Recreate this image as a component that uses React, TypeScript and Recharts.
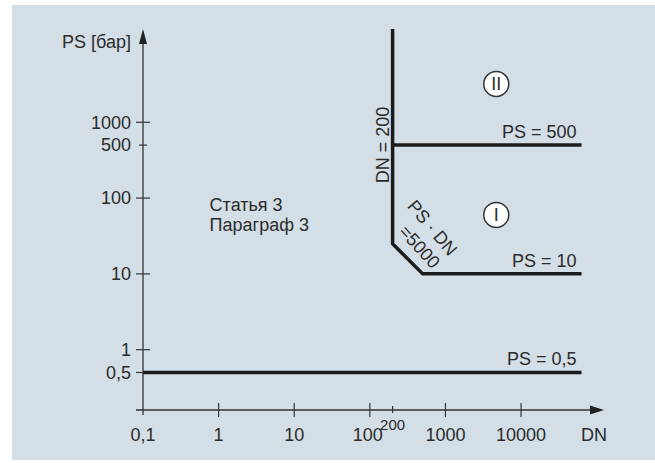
import { LineChart, Line, XAxis, YAxis, ReferenceLine, ReferenceDot } from "recharts";

const FONT = '"Liberation Sans", Arial, sans-serif';
const INK = "#1c1c1c";
const TEXT = "#2b2b2b";

// axis ticks
const dnTicks = [0.1, 1, 10, 100, 200, 1000, 10000];
const psTicks = [0.5, 1, 10, 100, 500, 1000];

// axis ranges (DN, PS)
const dnDomain = [0.1, 125000];
const psDomain = [0.16, 17000];

// boundary lines
const ps05Line = [
  { dn: 0.1, ps: 0.5 },
  { dn: 63000, ps: 0.5 },
];
const categoryLine = [
  { dn: 200, ps: 17000 },
  { dn: 200, ps: 25 },
  { dn: 500, ps: 10 },
  { dn: 63000, ps: 10 },
];
const ps500Line = [
  { dn: 200, ps: 500 },
  { dn: 63000, ps: 500 },
];

const fmt = (v: number) => String(v).replace(".", ",");

function PsTick({ x, y, payload }: any) {
  const v = payload.value;
  const half = v === 500 ? 4 : 7;
  return (
    <g>
      <line x1={x - half} x2={v === 0.5 ? x : x + half} y1={y} y2={y} stroke="#333" strokeWidth={1.2} />
      <text x={x - 12} y={y} dy="0.35em" textAnchor="end" fontSize={18} fill={TEXT}>
        {fmt(v)}
      </text>
    </g>
  );
}

function DnTick({ x, y, payload }: any) {
  const v = payload.value;
  if (v === 200) {
    return (
      <g>
        <line x1={x} x2={x} y1={y - 4} y2={y + 3} stroke="#333" strokeWidth={1.2} />
        <text x={x} y={y + 15} dy="0.35em" textAnchor="middle" fontSize={15} fill={TEXT}>
          200
        </text>
      </g>
    );
  }
  return (
    <g>
      {v !== 0.1 && <line x1={x} x2={x} y1={y - 7} y2={y + 7} stroke="#333" strokeWidth={1.2} />}
      <text x={v === 100 ? x - 2 : x} y={y + 25} dy="0.35em" textAnchor="middle" fontSize={18} fill={TEXT}>
        {fmt(v)}
      </text>
    </g>
  );
}

function YArrow(p: any) {
  const x = p.x1;
  const top = Math.min(p.y1, p.y2);
  const bottom = Math.max(p.y1, p.y2);
  return (
    <g>
      <line x1={x} x2={x} y1={bottom + 5} y2={top + 12} stroke="#333" strokeWidth={1.3} />
      <polygon points={`${x},${top} ${x - 4},${top + 15} ${x + 4},${top + 15}`} fill="#222" />
    </g>
  );
}

function XArrow(p: any) {
  const y = p.y1;
  const left = Math.min(p.x1, p.x2);
  const right = Math.max(p.x1, p.x2);
  return (
    <g>
      <line x1={left - 7} x2={right - 12} y1={y} y2={y} stroke="#333" strokeWidth={1.3} />
      <polygon points={`${right},${y} ${right - 14},${y - 4.5} ${right - 14},${y + 4.5}`} fill="#222" />
    </g>
  );
}

const lineLabel = (text: string) => (p: any) => (
  <text x={p.cx - 5} y={p.cy - 7} textAnchor="end" fontSize={18} fill={TEXT}>
    {text}
  </text>
);

const roman = (text: string) => (p: any) => (
  <g>
    <circle cx={p.cx} cy={p.cy} r={12.5} fill="#fff" stroke="#333" strokeWidth={1.5} />
    <text x={p.cx} y={p.cy} dy="0.35em" textAnchor="middle" fontSize={18} fill={TEXT}>
      {text}
    </text>
  </g>
);

export default function App() {
  return (
    <div
      style={{
        position: "absolute",
        left: 0,
        top: 0,
        width: 655,
        height: 463,
        background: "#fff",
        fontFamily: FONT,
      }}
    >
      <div
        style={{ position: "absolute", left: 12, top: 5, width: 643, height: 455, background: "#d3dee6" }}
      />
      <div style={{ position: "absolute", left: 0, top: 0 }}>
        <LineChart width={655} height={463} margin={{ top: 29, right: 51, bottom: 52, left: 142 }}>
          <XAxis
            type="number"
            dataKey="dn"
            scale="log"
            domain={dnDomain}
            allowDataOverflow
            ticks={dnTicks}
            interval={0}
            height={1}
            axisLine={false}
            tickLine={false}
            tickSize={0}
            tickMargin={0}
            tick={(p: any) => <DnTick {...p} />}
          />
          <YAxis
            type="number"
            dataKey="ps"
            scale="log"
            domain={psDomain}
            allowDataOverflow
            ticks={psTicks}
            interval={0}
            width={1}
            axisLine={false}
            tickLine={false}
            tickSize={0}
            tickMargin={0}
            tick={(p: any) => <PsTick {...p} />}
          />
          <ReferenceLine x={dnDomain[0]} shape={YArrow} />
          <ReferenceLine y={psDomain[0]} shape={XArrow} />

          <Line data={ps05Line} dataKey="ps" stroke={INK} strokeWidth={3.5} dot={false} isAnimationActive={false} />
          <Line data={categoryLine} dataKey="ps" stroke={INK} strokeWidth={3.5} dot={false} strokeLinejoin="miter" isAnimationActive={false} />
          <Line data={ps500Line} dataKey="ps" stroke={INK} strokeWidth={3.5} dot={false} isAnimationActive={false} />

          {/* axis titles */}
          <ReferenceDot
            x={dnDomain[0]}
            y={psDomain[1]}
            shape={(p: any) => (
              <text x={p.cx - 12} y={p.cy + 13} dy="0.35em" textAnchor="end" fontSize={18} fill={TEXT}>
                PS [бар]
              </text>
            )}
          />
          <ReferenceDot
            x={dnDomain[1]}
            y={psDomain[0]}
            shape={(p: any) => (
              <text x={p.cx - 10} y={p.cy + 25} dy="0.35em" textAnchor="middle" fontSize={18} fill={TEXT}>
                DN
              </text>
            )}
          />

          {/* line labels */}
          <ReferenceDot x={63000} y={500} shape={lineLabel("PS = 500")} />
          <ReferenceDot x={63000} y={10} shape={lineLabel("PS = 10")} />
          <ReferenceDot x={63000} y={0.5} shape={lineLabel("PS = 0,5")} />

          <ReferenceDot
            x={200}
            y={500}
            shape={(p: any) => (
              <text
                x={p.cx - 10}
                y={p.cy}
                dy="0.35em"
                textAnchor="middle"
                fontSize={18}
                fill={TEXT}
                transform={`rotate(-90 ${p.cx - 10} ${p.cy})`}
              >
                DN = 200
              </text>
            )}
          />
          <ReferenceDot
            x={200}
            y={25}
            shape={(p: any) => (
              <g fontSize={18} fill={TEXT}>
                <text
                  x={p.cx + 40}
                  y={p.cy - 16}
                  dy="0.35em"
                  textAnchor="middle"
                  transform={`rotate(50 ${p.cx + 40} ${p.cy - 16})`}
                >
                  PS · DN
                </text>
                <text
                  x={p.cx + 27}
                  y={p.cy + 3}
                  dy="0.35em"
                  textAnchor="middle"
                  transform={`rotate(48 ${p.cx + 27} ${p.cy + 3})`}
                >
                  =5000
                </text>
              </g>
            )}
          />

          <ReferenceDot
            x={0.76}
            y={67}
            shape={(p: any) => (
              <g fontSize={18} fill={TEXT}>
                <text x={p.cx} y={p.cy}>Статья 3</text>
                <text x={p.cx} y={p.cy + 20}>Параграф 3</text>
              </g>
            )}
          />

          <ReferenceDot x={4700} y={3200} shape={roman("II")} />
          <ReferenceDot x={4700} y={60} shape={roman("I")} />
        </LineChart>
      </div>
    </div>
  );
}
